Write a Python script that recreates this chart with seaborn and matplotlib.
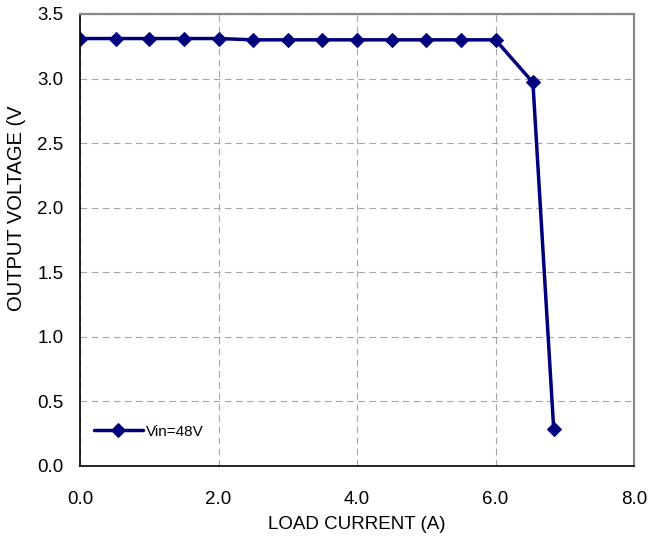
import matplotlib
matplotlib.use("Agg")
import matplotlib.pyplot as plt
import seaborn as sns
import pandas as pd

# Load regulation data, Vin = 48 V
load_current = [0.0, 0.52, 1.0, 1.5, 2.0, 2.5, 3.0, 3.5, 4.0, 4.5, 5.0, 5.5, 6.0, 6.54, 6.84]
output_voltage = [3.31, 3.31, 3.31, 3.31, 3.31, 3.30, 3.30, 3.30, 3.30, 3.30, 3.30, 3.30, 3.30, 2.97, 0.29]
series_label = "Vin=48V"

x_ticks = [0.0, 2.0, 4.0, 6.0, 8.0]
y_ticks = [0.0, 0.5, 1.0, 1.5, 2.0, 2.5, 3.0, 3.5]

df = pd.DataFrame({"I": load_current, "V": output_voltage, "series": series_label})

sns.set_style("white")
plt.rcParams["font.family"] = ["Liberation Sans", "DejaVu Sans"]
plt.rcParams["text.color"] = "black"
plt.rcParams["axes.labelcolor"] = "black"

fig = plt.figure(figsize=(6.48, 5.43), dpi=100)
ax = fig.add_axes([80 / 648, 77 / 543, 554 / 648, 452 / 543])

sns.lineplot(data=df, x="I", y="V", hue="series", palette=["#00007f"],
             marker="D", markersize=7, markeredgecolor="#00007f",
             linewidth=2.5, ax=ax)

ax.set_xlim(0, 8)
ax.set_ylim(0, 3.5)
ax.set_xticks(x_ticks)
ax.set_xticklabels([f"{t:.1f}" for t in x_ticks])
ax.set_yticks(y_ticks)
ax.set_yticklabels([f"{t:.1f}" for t in y_ticks])
ax.tick_params(axis="both", labelsize=13.5, colors="black", direction="in",
               length=4, width=1)
ax.tick_params(axis="x", pad=18)
ax.tick_params(axis="y", pad=12)

ax.grid(True, linestyle=(0, (6, 4)), color="#a6a6a6", linewidth=0.8)

for side in ["left", "bottom"]:
    ax.spines[side].set_color("black")
    ax.spines[side].set_linewidth(1.2)
for side in ["top", "right"]:
    ax.spines[side].set_color("#888888")
    ax.spines[side].set_linewidth(1.6)

ax.set_xlabel("LOAD CURRENT (A)", fontsize=13.5, labelpad=6)
ax.set_ylabel("OUTPUT VOLTAGE (V", fontsize=14.5)
ax.yaxis.set_label_coords(-0.097, 0.57)

leg = ax.legend(loc="lower left", bbox_to_anchor=(0.0, 0.03), frameon=False,
                fontsize=11, handlelength=3.2, handletextpad=0.2)

fig.savefig("out.png", dpi=100)
